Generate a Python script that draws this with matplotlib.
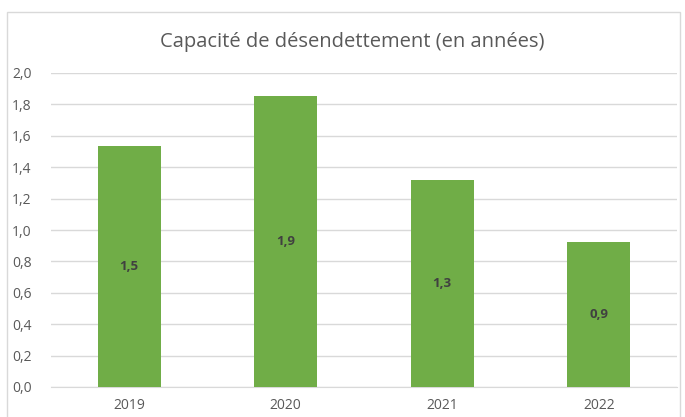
import matplotlib.pyplot as plt
from matplotlib.patches import Rectangle

annees = ['2019', '2020', '2021', '2022']
capacite = [1.535, 1.855, 1.318, 0.922]
etiquettes = ['1,5', '1,9', '1,3', '0,9']
yticks = [0.0, 0.2, 0.4, 0.6, 0.8, 1.0, 1.2, 1.4, 1.6, 1.8, 2.0]

plt.rcParams['font.family'] = ['Open Sans', 'DejaVu Sans']

fig = plt.figure(figsize=(6.85, 4.17), dpi=100)
fig.patches.append(Rectangle((7 / 685, -0.01), 673 / 685, 1 - 12 / 417 + 0.01,
                             transform=fig.transFigure, fill=False,
                             edgecolor='#d9d9d9', linewidth=1))
ax = fig.add_axes([51 / 685, 1 - 387 / 417, 626 / 685, 314 / 417])

x = range(len(annees))
bars = ax.bar(x, capacite, width=0.4, color='#70ad47', zorder=3)
for b, lab in zip(bars, etiquettes):
    ax.text(b.get_x() + b.get_width() / 2, b.get_height() / 2, lab,
            ha='center', va='center', fontsize=9.5, fontweight='bold', color='#404040', zorder=4)

ax.set_xlim(-0.5, len(annees) - 0.5)
ax.set_ylim(0, 2.0)
ax.set_yticks(yticks)
ax.set_yticklabels([f'{v:.1f}'.replace('.', ',') for v in yticks])
ax.set_xticks(list(x))
ax.set_xticklabels(annees)
ax.tick_params(axis='both', length=0, labelsize=10, colors='#595959')
ax.tick_params(axis='y', pad=14)
ax.tick_params(axis='x', pad=8)
ax.grid(axis='y', color='#d9d9d9', linewidth=1, zorder=0)
for s in ['top', 'right', 'left']:
    ax.spines[s].set_visible(False)
ax.spines['bottom'].set_color('#d9d9d9')

fig.text(352 / 685, 1 - 42 / 417, 'Capacité de désendettement (en années)',
         ha='center', va='center', fontsize=14.5, color='#595959')

fig.savefig('out.png', dpi=100)
